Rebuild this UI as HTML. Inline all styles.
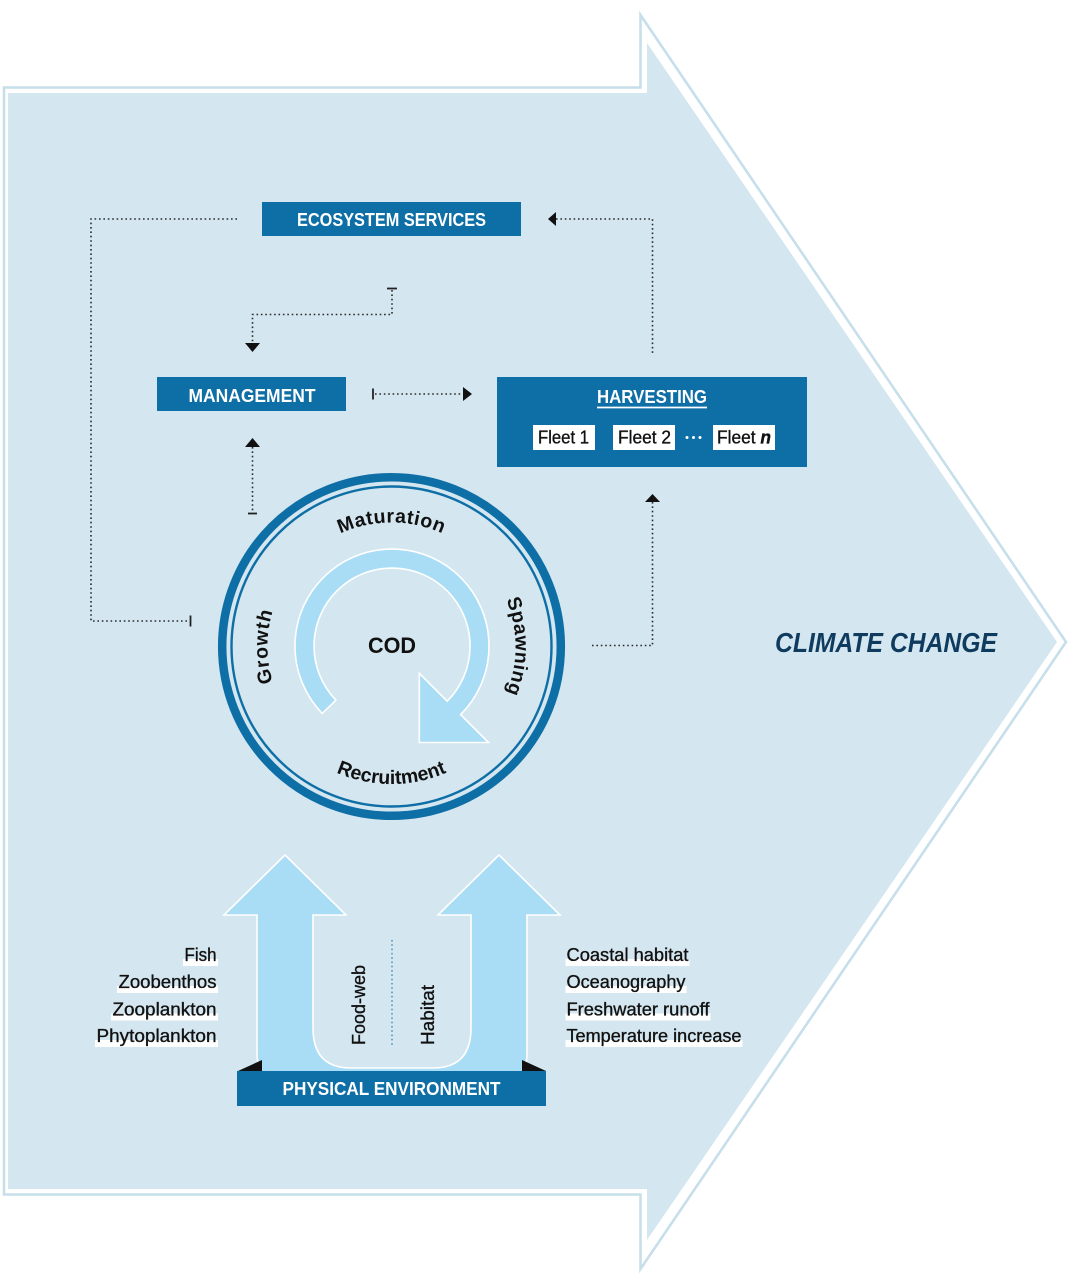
<!DOCTYPE html>
<html>
<head>
<meta charset="utf-8">
<style>
  html, body { margin: 0; padding: 0; background: #ffffff; }
  body { width: 1072px; height: 1283px; overflow: hidden; }
  svg { display: block; }
  .box { font-family: "Liberation Sans", Arial, sans-serif; font-weight: bold; fill: #ffffff; }
  .lbl { font-family: "Liberation Sans", Arial, sans-serif; fill: #111111; stroke: #111111; stroke-width: 0.35; }
  .cyc { font-family: "Liberation Sans", Arial, sans-serif; font-weight: bold; fill: #111111; font-size: 19.5px; }
  .dot { fill: none; stroke: #2a2a2a; stroke-width: 1.6; stroke-dasharray: 1.6 2.8; }
</style>
</head>
<body>
<svg width="1072" height="1283" viewBox="0 0 1072 1283" xmlns="http://www.w3.org/2000/svg">
  <rect x="0" y="0" width="1072" height="1283" fill="#ffffff"/>

  <!-- Big climate-change arrow: outline -->
  <polygon points="4,87.5 640.5,87.5 640.5,15 1066,642 640.5,1269 640.5,1194.5 4,1194.5"
           fill="none" stroke="#c6dfea" stroke-width="2.6" stroke-linejoin="miter"/>
  <!-- Big arrow fill -->
  <polygon points="8,93 647,93 647,43 1057,642 647,1240 647,1189 8,1189" fill="#d4e6ef"/>

  <!-- ECOSYSTEM SERVICES -->
  <rect x="262" y="202" width="259" height="34" fill="#0e6ea6"/>
  <text class="box" x="391.5" y="226" font-size="18" text-anchor="middle" textLength="189" lengthAdjust="spacingAndGlyphs">ECOSYSTEM SERVICES</text>

  <!-- MANAGEMENT -->
  <rect x="157" y="377" width="189" height="34" fill="#0e6ea6"/>
  <text class="box" x="252" y="402" font-size="18.5" text-anchor="middle" textLength="127" lengthAdjust="spacingAndGlyphs">MANAGEMENT</text>

  <!-- HARVESTING -->
  <rect x="497" y="377" width="310" height="90" fill="#0e6ea6"/>
  <text class="box" x="652" y="403" font-size="18.5" text-anchor="middle" textLength="110" lengthAdjust="spacingAndGlyphs">HARVESTING</text>
  <line x1="597" y1="407.5" x2="707" y2="407.5" stroke="#ffffff" stroke-width="1.8"/>

  <rect x="533" y="425" width="62" height="25" fill="#ffffff"/>
  <text class="lbl" x="538" y="443.5" font-size="18" textLength="51" lengthAdjust="spacingAndGlyphs">Fleet 1</text>
  <rect x="613" y="425" width="62" height="25" fill="#ffffff"/>
  <text class="lbl" x="618" y="443.5" font-size="18" textLength="53" lengthAdjust="spacingAndGlyphs">Fleet 2</text>
  <circle cx="687" cy="437.5" r="1.5" fill="#ffffff"/>
  <circle cx="693.5" cy="437.5" r="1.5" fill="#ffffff"/>
  <circle cx="700" cy="437.5" r="1.5" fill="#ffffff"/>
  <rect x="713" y="425" width="62" height="25" fill="#ffffff"/>
  <text class="lbl" x="717" y="443.5" font-size="18" textLength="54" lengthAdjust="spacingAndGlyphs">Fleet <tspan font-style="italic" font-weight="bold">n</tspan></text>

  <!-- Connectors -->
  <path class="dot" d="M237,219 L91,219 L91,621 L189,621"/>
  <line x1="190.5" y1="615.5" x2="190.5" y2="626.5" stroke="#222" stroke-width="1.8"/>

  <line x1="387" y1="288.5" x2="397" y2="288.5" stroke="#222" stroke-width="1.8"/>
  <path class="dot" d="M392,290 L392,314.5 L252.5,314.5 L252.5,343"/>
  <polygon points="245,343 260,343 252.5,352" fill="#111"/>

  <line x1="373" y1="388.5" x2="373" y2="399.5" stroke="#222" stroke-width="1.8"/>
  <path class="dot" d="M375,394 L463,394"/>
  <polygon points="463,387 463,401 472,394" fill="#111"/>

  <polygon points="245,447 260,447 252.5,438" fill="#111"/>
  <path class="dot" d="M252.5,447 L252.5,511"/>
  <line x1="248" y1="513.5" x2="257" y2="513.5" stroke="#222" stroke-width="1.8"/>

  <polygon points="548,219 556,212 556,226" fill="#111"/>
  <path class="dot" d="M556,219 L652.5,219 L652.5,354"/>

  <polygon points="645,502 660,502 652.5,494" fill="#111"/>
  <path class="dot" d="M652.5,502 L652.5,645.5 L590,645.5"/>

  <!-- COD circle -->
  <circle cx="391.5" cy="646.5" r="169.3" fill="none" stroke="#0e6ea6" stroke-width="8.5"/>
  <circle cx="391.5" cy="646.5" r="160" fill="none" stroke="#0e6ea6" stroke-width="2.4"/>

  <!-- circular arrow -->
  <path d="M322.2,713.4 A97,97 0 1,1 460.6,714.6 L488.5,742.5 L419.3,742.5 L419.3,673.3 L447.2,701.2 A78,78 0 1,0 335.9,700.2 Z"
        fill="#a9dcf5" stroke="#ffffff" stroke-width="1.6" stroke-linejoin="miter"/>

  <text x="392" y="653" font-family="Liberation Sans, Arial, sans-serif" font-weight="bold" font-size="22" fill="#111" text-anchor="middle" textLength="48" lengthAdjust="spacingAndGlyphs">COD</text>

  <defs>
    <path id="cw" d="M391.5,770.5 A124,124 0 1,1 391.5,522.5 A124,124 0 1,1 391.5,770.5"/>
    <path id="ccw" d="M391.5,509 A137.5,137.5 0 1,0 391.5,784 A137.5,137.5 0 1,0 391.5,509"/>
  </defs>
  <text class="cyc" letter-spacing="0.6"><textPath href="#cw" startOffset="50%" text-anchor="middle">Maturation</textPath></text>
  <text class="cyc" letter-spacing="0.5"><textPath href="#cw" startOffset="75%" text-anchor="middle">Spawning</textPath></text>
  <text class="cyc" letter-spacing="0.8"><textPath href="#cw" startOffset="25%" text-anchor="middle">Growth</textPath></text>
  <text class="cyc" letter-spacing="0"><textPath href="#ccw" startOffset="50%" text-anchor="middle">Recruitment</textPath></text>

  <!-- CLIMATE CHANGE -->
  <text x="775" y="652" font-family="Liberation Sans, Arial, sans-serif" font-weight="bold" font-style="italic" font-size="28" fill="#0f3b5f" textLength="222" lengthAdjust="spacingAndGlyphs">CLIMATE CHANGE</text>

  <!-- Bottom U-shaped arrows -->
  <path d="M257,915 L224,915 L285,855 L346,915 L313,915 L313,1028 Q313,1068 351,1068 L433,1068 Q471,1068 471,1028 L471,915 L438,915 L499,855 L560,915 L527,915 L527,1052 Q527,1068 521,1074 L263,1074 Q257,1068 257,1052 Z"
        fill="#a9dcf5" stroke="#ffffff" stroke-width="1.6" stroke-linejoin="miter"/>

  <line x1="392" y1="940" x2="392" y2="1047" stroke="#3d8fc0" stroke-width="1.5" stroke-dasharray="1.5 2.8"/>

  <text class="lbl" transform="translate(365,1005) rotate(-90)" x="0" y="0" font-size="18.5" text-anchor="middle" textLength="80" lengthAdjust="spacingAndGlyphs">Food-web</text>
  <text class="lbl" transform="translate(434,1015) rotate(-90)" x="0" y="0" font-size="18.5" text-anchor="middle" textLength="60" lengthAdjust="spacingAndGlyphs">Habitat</text>

  <polygon points="238,1071 262,1060 262,1071" fill="#111"/>
  <polygon points="522,1060 546,1071 522,1071" fill="#111"/>

  <!-- PHYSICAL ENVIRONMENT -->
  <rect x="237" y="1071" width="309" height="35" fill="#0e6ea6"/>
  <text class="box" x="391.5" y="1095" font-size="18" text-anchor="middle" textLength="218" lengthAdjust="spacingAndGlyphs">PHYSICAL ENVIRONMENT</text>

  <!-- Left labels -->
  <rect x="183" y="959" width="35" height="7" fill="#ffffff"/>
  <text class="lbl" x="216.5" y="961" font-size="18.5" text-anchor="end" textLength="32" lengthAdjust="spacingAndGlyphs">Fish</text>
  <rect x="117" y="986" width="101" height="7" fill="#ffffff"/>
  <text class="lbl" x="216.5" y="988" font-size="18.5" text-anchor="end" textLength="98" lengthAdjust="spacingAndGlyphs">Zoobenthos</text>
  <rect x="111" y="1013.5" width="107" height="7" fill="#ffffff"/>
  <text class="lbl" x="216.5" y="1015.5" font-size="18.5" text-anchor="end" textLength="104" lengthAdjust="spacingAndGlyphs">Zooplankton</text>
  <rect x="95" y="1040" width="123" height="7" fill="#ffffff"/>
  <text class="lbl" x="216.5" y="1042" font-size="18.5" text-anchor="end" textLength="120" lengthAdjust="spacingAndGlyphs">Phytoplankton</text>

  <!-- Right labels -->
  <rect x="565.5" y="959" width="124" height="7" fill="#ffffff"/>
  <text class="lbl" x="566.5" y="961" font-size="18.5" textLength="122" lengthAdjust="spacingAndGlyphs">Coastal habitat</text>
  <rect x="565.5" y="986" width="121" height="7" fill="#ffffff"/>
  <text class="lbl" x="566.5" y="988" font-size="18.5" textLength="119" lengthAdjust="spacingAndGlyphs">Oceanography</text>
  <rect x="565.5" y="1013.5" width="145" height="7" fill="#ffffff"/>
  <text class="lbl" x="566.5" y="1015.5" font-size="18.5" textLength="143" lengthAdjust="spacingAndGlyphs">Freshwater runoff</text>
  <rect x="565.5" y="1040" width="177" height="7" fill="#ffffff"/>
  <text class="lbl" x="566.5" y="1042" font-size="18.5" textLength="175" lengthAdjust="spacingAndGlyphs">Temperature increase</text>
</svg>
</body>
</html>
